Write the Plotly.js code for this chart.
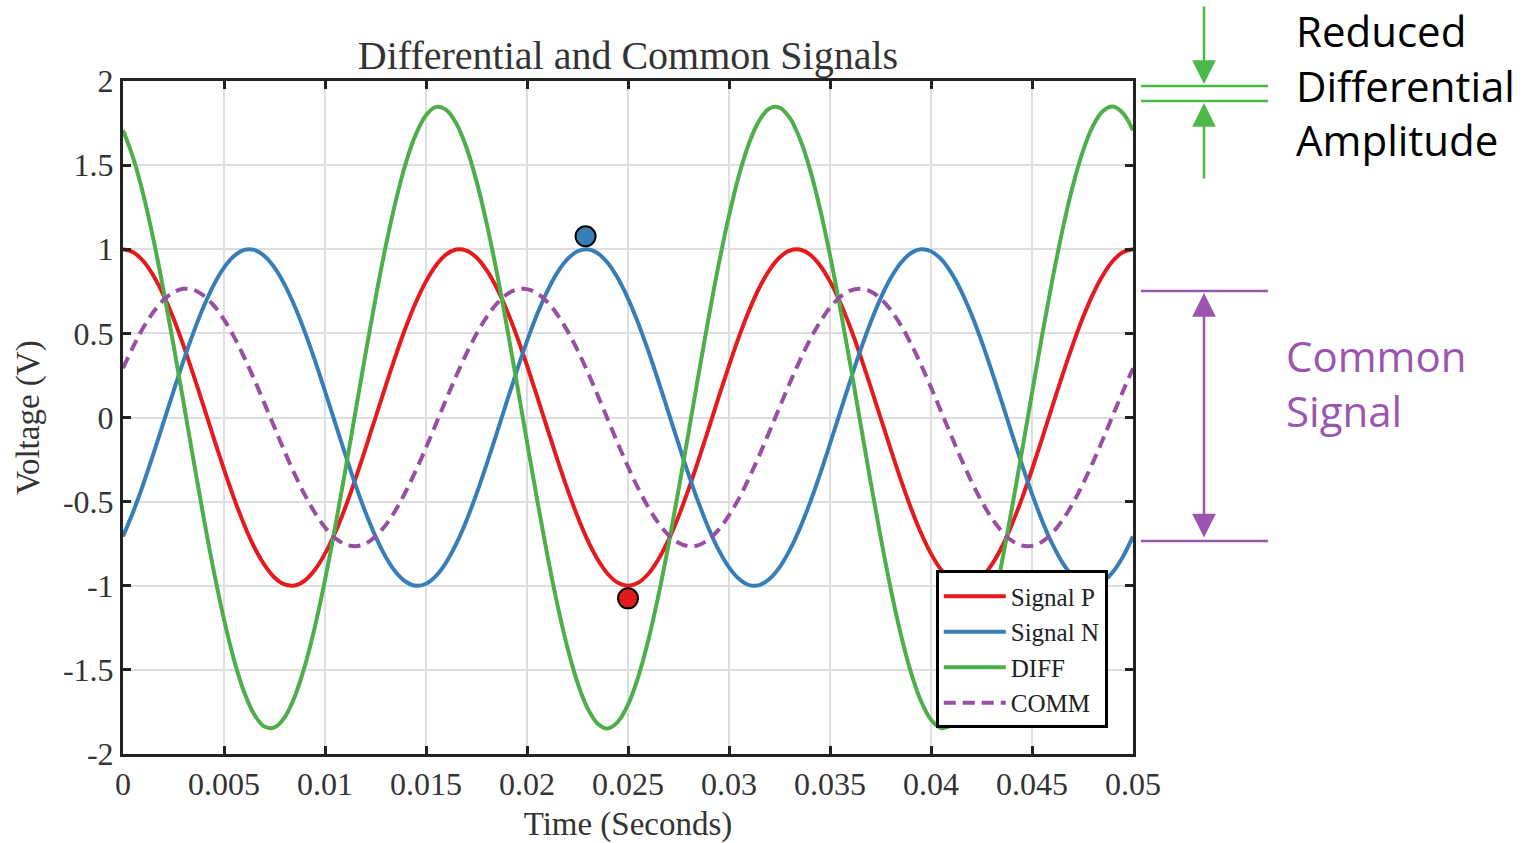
<!DOCTYPE html>
<html>
<head>
<meta charset="utf-8">
<script src="https://cdn.plot.ly/plotly-3.0.1.min.js"></script>
<style>html,body{margin:0;padding:0;background:#fff;}#chart{width:1531px;height:843px;}</style>
</head>
<body>
<div id="chart"></div>
<script>
// Time samples (seconds)
const time = [0, 0.0005, 0.001, 0.0015, 0.002, 0.0025, 0.003, 0.0035, 0.004, 0.0045,
  0.005, 0.0055, 0.006, 0.0065, 0.007, 0.0075, 0.008, 0.0085, 0.009, 0.0095,
  0.010, 0.0105, 0.011, 0.0115, 0.012, 0.0125, 0.013, 0.0135, 0.014, 0.0145,
  0.015, 0.0155, 0.016, 0.0165, 0.017, 0.0175, 0.018, 0.0185, 0.019, 0.0195,
  0.020, 0.0205, 0.021, 0.0215, 0.022, 0.0225, 0.023, 0.0235, 0.024, 0.0245,
  0.025, 0.0255, 0.026, 0.0265, 0.027, 0.0275, 0.028, 0.0285, 0.029, 0.0295,
  0.030, 0.0305, 0.031, 0.0315, 0.032, 0.0325, 0.033, 0.0335, 0.034, 0.0345,
  0.035, 0.0355, 0.036, 0.0365, 0.037, 0.0375, 0.038, 0.0385, 0.039, 0.0395,
  0.040, 0.0405, 0.041, 0.0415, 0.042, 0.0425, 0.043, 0.0435, 0.044, 0.0445,
  0.045, 0.0455, 0.046, 0.0465, 0.047, 0.0475, 0.048, 0.0485, 0.049, 0.0495, 0.050];

const signalP = [1.000, 0.982, 0.930, 0.844, 0.729, 0.588, 0.426, 0.249, 0.063, -0.125,
  -0.309, -0.482, -0.637, -0.771, -0.876, -0.951, -0.992, -0.998, -0.969, -0.905,
  -0.809, -0.685, -0.536, -0.368, -0.187, 0.000, 0.187, 0.368, 0.536, 0.685,
  0.809, 0.905, 0.969, 0.998, 0.992, 0.951, 0.876, 0.771, 0.637, 0.482,
  0.309, 0.125, -0.063, -0.249, -0.426, -0.588, -0.729, -0.844, -0.930, -0.982,
  -1.000, -0.982, -0.930, -0.844, -0.729, -0.588, -0.426, -0.249, -0.063, 0.125,
  0.309, 0.482, 0.637, 0.771, 0.876, 0.951, 0.992, 0.998, 0.969, 0.905,
  0.809, 0.685, 0.536, 0.368, 0.187, 0.000, -0.187, -0.368, -0.536, -0.685,
  -0.809, -0.905, -0.969, -0.998, -0.992, -0.951, -0.876, -0.771, -0.637, -0.482,
  -0.309, -0.125, 0.063, 0.249, 0.426, 0.588, 0.729, 0.844, 0.930, 0.982, 1.000];

const signalN = [-0.707, -0.562, -0.397, -0.218, -0.031, 0.156, 0.339, 0.509, 0.661, 0.790,
  0.891, 0.960, 0.996, 0.996, 0.960, 0.891, 0.790, 0.661, 0.509, 0.339,
  0.156, -0.031, -0.218, -0.397, -0.562, -0.707, -0.827, -0.918, -0.976, -1.000,
  -0.988, -0.941, -0.861, -0.750, -0.613, -0.454, -0.279, -0.094, 0.094, 0.279,
  0.454, 0.613, 0.750, 0.861, 0.941, 0.988, 1.000, 0.976, 0.918, 0.827,
  0.707, 0.562, 0.397, 0.218, 0.031, -0.156, -0.339, -0.509, -0.661, -0.790,
  -0.891, -0.960, -0.996, -0.996, -0.960, -0.891, -0.790, -0.661, -0.509, -0.339,
  -0.156, 0.031, 0.218, 0.397, 0.562, 0.707, 0.827, 0.918, 0.976, 1.000,
  0.988, 0.941, 0.861, 0.750, 0.613, 0.454, 0.279, 0.094, -0.094, -0.279,
  -0.454, -0.613, -0.750, -0.861, -0.941, -0.988, -1.000, -0.976, -0.918, -0.827, -0.707];

const diffSig = [1.707, 1.544, 1.327, 1.062, 0.760, 0.431, 0.087, -0.260, -0.599, -0.916,
  -1.200, -1.442, -1.633, -1.766, -1.837, -1.842, -1.782, -1.659, -1.478, -1.244,
  -0.965, -0.653, -0.318, 0.029, 0.375, 0.707, 1.015, 1.286, 1.512, 1.684,
  1.797, 1.846, 1.829, 1.748, 1.605, 1.405, 1.155, 0.865, 0.543, 0.203,
  -0.145, -0.488, -0.813, -1.109, -1.367, -1.576, -1.729, -1.820, -1.848, -1.809,
  -1.707, -1.544, -1.327, -1.062, -0.760, -0.431, -0.087, 0.260, 0.599, 0.916,
  1.200, 1.442, 1.633, 1.766, 1.837, 1.842, 1.782, 1.659, 1.478, 1.244,
  0.965, 0.653, 0.318, -0.029, -0.375, -0.707, -1.015, -1.286, -1.512, -1.684,
  -1.797, -1.846, -1.829, -1.748, -1.605, -1.405, -1.155, -0.865, -0.543, -0.203,
  0.145, 0.488, 0.813, 1.109, 1.367, 1.576, 1.729, 1.820, 1.848, 1.809, 1.707];

const commSig = [0.293, 0.420, 0.533, 0.626, 0.698, 0.744, 0.765, 0.758, 0.724, 0.665,
  0.582, 0.479, 0.358, 0.225, 0.084, -0.060, -0.202, -0.337, -0.460, -0.566,
  -0.653, -0.716, -0.754, -0.765, -0.750, -0.707, -0.640, -0.550, -0.440, -0.315,
  -0.179, -0.036, 0.108, 0.248, 0.379, 0.497, 0.597, 0.676, 0.732, 0.761,
  0.763, 0.738, 0.687, 0.612, 0.515, 0.400, 0.271, 0.132, -0.012, -0.155,
  -0.293, -0.420, -0.533, -0.626, -0.698, -0.744, -0.765, -0.758, -0.724, -0.665,
  -0.582, -0.479, -0.358, -0.225, -0.084, 0.060, 0.202, 0.337, 0.460, 0.566,
  0.653, 0.716, 0.754, 0.765, 0.750, 0.707, 0.640, 0.550, 0.440, 0.315,
  0.179, 0.036, -0.108, -0.248, -0.379, -0.497, -0.597, -0.676, -0.732, -0.761,
  -0.763, -0.738, -0.687, -0.612, -0.515, -0.400, -0.271, -0.132, 0.012, 0.155, 0.293];

// Highlighted points
const markerNX = [0.0229];
const markerNY = [1.077];
const markerPX = [0.025];
const markerPY = [-1.075];

// Tick labels
const xTickVals = [0, 0.005, 0.01, 0.015, 0.02, 0.025, 0.03, 0.035, 0.04, 0.045, 0.05];
const xTickText = ['0', '0.005', '0.01', '0.015', '0.02', '0.025', '0.03', '0.035', '0.04', '0.045', '0.05'];
const yTickVals = [-2, -1.5, -1, -0.5, 0, 0.5, 1, 1.5, 2];
const yTickText = ['-2', '-1.5', '-1', '-0.5', '0', '0.5', '1', '1.5', '2'];

// Annotation levels (voltage)
const commLevels = [0.752, -0.734];

const serif = '"Liberation Serif", "Times New Roman", serif';
const sans = '"Open Sans", "Noto Sans", sans-serif';
const cRed = '#e41a1c', cBlue = '#377eb8', cGreen = '#4daf4a', cPurple = '#984ea3';
const annGreen = '#4cb848', annPurple = '#9b55b0';

const traces = [
  {x: time, y: signalP, name: 'Signal P', mode: 'lines', line: {color: cRed, width: 4, shape: 'spline'}},
  {x: time, y: signalN, name: 'Signal N', mode: 'lines', line: {color: cBlue, width: 4, shape: 'spline'}},
  {x: time, y: diffSig, name: 'DIFF', mode: 'lines', line: {color: cGreen, width: 4, shape: 'spline'}},
  {x: time, y: commSig, name: 'COMM', mode: 'lines', line: {color: cPurple, width: 4, shape: 'spline', dash: '12px,7px'}},
  {x: markerNX, y: markerNY, mode: 'markers', showlegend: false, cliponaxis: false,
   marker: {color: cBlue, size: 20, line: {color: '#000', width: 2}}},
  {x: markerPX, y: markerPY, mode: 'markers', showlegend: false, cliponaxis: false,
   marker: {color: cRed, size: 20, line: {color: '#000', width: 2}}}
];

const axisCommon = {
  showline: true, linecolor: '#222', linewidth: 3, mirror: 'ticks',
  ticks: 'inside', ticklen: 8, tickwidth: 3, tickcolor: '#222',
  showgrid: true, gridcolor: '#dedede', gridwidth: 2, zeroline: false,
  tickfont: {family: serif, size: 32, color: '#333'}
};

const xL = 1.0079, xR = 1.1337, xMid = 1.0703;

const layout = {
  width: 1531, height: 843,
  margin: {l: 123, r: 398, t: 81, b: 89},
  paper_bgcolor: '#fff', plot_bgcolor: '#fff',
  title: {text: 'Differential and Common Signals', font: {family: serif, size: 40, color: '#333'},
          xref: 'paper', x: 0.5, xanchor: 'center', yref: 'container', y: 0.935, yanchor: 'middle'},
  xaxis: Object.assign({}, axisCommon, {
    range: [0, 0.05], tickvals: xTickVals, ticktext: xTickText,
    title: {text: 'Time (Seconds)', font: {family: serif, size: 33, color: '#333'}, standoff: 14}
  }),
  yaxis: Object.assign({}, axisCommon, {
    range: [-2, 2], tickvals: yTickVals, ticktext: yTickText,
    title: {text: 'Voltage (V)', font: {family: serif, size: 33, color: '#333'}, standoff: 14}
  }),
  showlegend: true,
  legend: {
    x: 0.975, xanchor: 'right', y: 0.038, yanchor: 'bottom',
    bgcolor: '#fff', bordercolor: '#000', borderwidth: 3,
    font: {family: serif, size: 25, color: '#222'}, itemwidth: 62
  },
  shapes: [
    {type: 'line', xref: 'paper', yref: 'paper', x0: xL, x1: xR, y0: 0.9926, y1: 0.9926, line: {color: annGreen, width: 2.5}},
    {type: 'line', xref: 'paper', yref: 'paper', x0: xL, x1: xR, y0: 0.9703, y1: 0.9703, line: {color: annGreen, width: 2.5}},
    {type: 'line', xref: 'paper', yref: 'y', x0: xL, x1: xR, y0: commLevels[0], y1: commLevels[0], line: {color: annPurple, width: 2.5}},
    {type: 'line', xref: 'paper', yref: 'y', x0: xL, x1: xR, y0: commLevels[1], y1: commLevels[1], line: {color: annPurple, width: 2.5}}
  ],
  annotations: [
    {xref: 'paper', yref: 'paper', x: xMid, y: 0.9955, text: '', showarrow: true, ax: 0, ay: -79,
     arrowhead: 2, arrowsize: 1.9, arrowwidth: 2.5, arrowcolor: annGreen, standoff: 0},
    {xref: 'paper', yref: 'paper', x: xMid, y: 0.9673, text: '', showarrow: true, ax: 0, ay: 77,
     arrowhead: 2, arrowsize: 1.9, arrowwidth: 2.5, arrowcolor: annGreen, standoff: 0},
    {xref: 'paper', yref: 'y', x: xMid, y: 0.74, text: '', showarrow: true, ax: 0, ay: 246,
     arrowhead: 2, arrowsize: 1.9, arrowwidth: 2.5, arrowcolor: annPurple, standoff: 0,
     arrowside: 'end+start', startarrowhead: 2, startarrowsize: 1.9, startstandoff: 0},
    {xref: 'paper', yref: 'paper', x: 1.1594, y: 0.994, xanchor: 'left', yanchor: 'middle', align: 'left',
     text: 'Reduced<br>Differential<br>Amplitude', showarrow: false,
     font: {family: sans, size: 42, color: '#000'}},
    {xref: 'paper', yref: 'paper', x: 1.1495, y: 0.552, xanchor: 'left', yanchor: 'middle', align: 'left',
     text: 'Common<br>Signal', showarrow: false,
     font: {family: sans, size: 42, color: annPurple}}
  ]
};

Plotly.newPlot('chart', traces, layout, {displayModeBar: false, staticPlot: true});
</script>
</body>
</html>
